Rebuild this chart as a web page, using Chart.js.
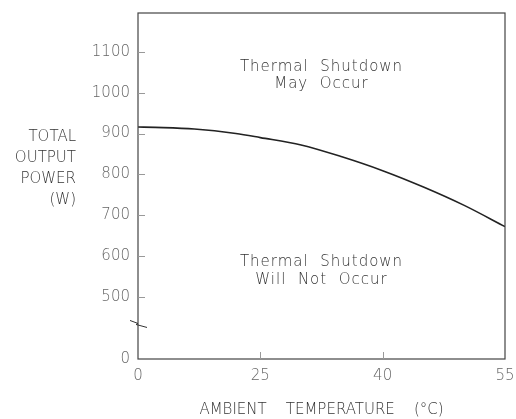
<!DOCTYPE html>
<html>
<head>
<meta charset="utf-8">
<script src="https://cdn.jsdelivr.net/npm/chart.js@4/dist/chart.umd.min.js"></script>
<style>
  html, body { margin: 0; padding: 0; background: #fff; }
  #wrap { width: 516px; height: 419px; }
</style>
</head>
<body>
<div id="wrap"><canvas id="powerChart"></canvas></div>
<script>
// x axis ticks are evenly spaced but not linear in degrees
const xTickValues = [0, 25, 40, 55];
const xTickLabels = ['0', '25', '40', '55'];
const yTickValues = [0, 500, 600, 700, 800, 900, 1000, 1100];

// derating curve
const temps = [0, 3.5, 11.5, 20, 25, 30, 35, 40, 45, 50, 55];
const power = [916, 915, 911, 900, 890, 872, 843, 809, 769, 724, 672];

const yFloor = 348;   // where the broken axis puts "0"
const yTop = 1195;

const FONT = 'DejaVu Sans';

// temperature -> position along the evenly spaced tick axis
function toPos(t) {
  for (let i = 0; i < xTickValues.length - 1; i++) {
    const a = xTickValues[i], b = xTickValues[i + 1];
    if (t <= b) return i + (t - a) / (b - a);
  }
  return xTickValues.length - 1;
}

const extras = {
  id: 'extras',
  afterDraw(chart) {
    const { ctx, chartArea: ca, scales: { x, y } } = chart;
    ctx.save();

    // frame
    ctx.strokeStyle = '#444';
    ctx.lineWidth = 1.2;
    ctx.strokeRect(ca.left, ca.top, ca.right - ca.left, ca.bottom - ca.top);

    // inner tick marks
    ctx.strokeStyle = '#999';
    ctx.lineWidth = 1;
    yTickValues.slice(1).forEach(v => {
      const py = Math.round(y.getPixelForValue(v)) + 0.5;
      ctx.beginPath();
      ctx.moveTo(ca.left, py);
      ctx.lineTo(ca.left + 7, py);
      ctx.stroke();
    });
    xTickValues.slice(1, -1).forEach((v, i) => {
      const px = Math.round(x.getPixelForValue(i + 1)) + 0.5;
      ctx.beginPath();
      ctx.moveTo(px, ca.bottom);
      ctx.lineTo(px, ca.bottom - 7);
      ctx.stroke();
    });

    // axis break mark
    const by = y.getPixelForValue(435);
    ctx.strokeStyle = '#333';
    ctx.beginPath();
    ctx.moveTo(ca.left - 8, by - 3);
    ctx.lineTo(ca.left, by);
    ctx.lineTo(ca.left - 2, by + 1);
    ctx.lineTo(ca.left + 9, by + 4);
    ctx.stroke();

    // region notes
    ctx.fillStyle = '#333';
    ctx.font = '200 15px "' + FONT + '"';
    ctx.letterSpacing = '1px';
    ctx.textAlign = 'center';
    ctx.textBaseline = 'middle';
    const cx = x.getPixelForValue(1.5);
    ctx.fillText('Thermal  Shutdown', cx, y.getPixelForValue(1063));
    ctx.fillText('May  Occur', cx, y.getPixelForValue(1022));
    ctx.fillText('Thermal  Shutdown', cx, y.getPixelForValue(586));
    ctx.fillText('Will  Not  Occur', cx, y.getPixelForValue(542));

    // y axis title, stacked
    ctx.letterSpacing = '0px';
    ctx.textAlign = 'right';
    ['TOTAL', 'OUTPUT', 'POWER', '(W)'].forEach((t, i) => {
      ctx.fillText(t, 76, 137 + i * 21);
    });
    ctx.restore();
  }
};

new Chart(document.getElementById('powerChart'), {
  type: 'line',
  data: {
    datasets: [{
      data: temps.map((t, i) => ({ x: toPos(t), y: power[i] })),
      borderColor: '#222',
      borderWidth: 1.6,
      pointRadius: 0,
      cubicInterpolationMode: 'monotone',
      fill: false
    }]
  },
  options: {
    responsive: true,
    maintainAspectRatio: false,
    animation: false,
    layout: { padding: { top: 13, right: 11, left: 0, bottom: 0 } },
    plugins: { legend: { display: false }, tooltip: { enabled: false } },
    scales: {
      x: {
        type: 'linear',
        min: 0,
        max: xTickValues.length - 1,
        afterBuildTicks: s => { s.ticks = xTickValues.map((v, i) => ({ value: i })); },
        afterFit: s => { s.height = 60; s.paddingLeft = 0; s.paddingRight = 0; },
        grid: { display: false, drawTicks: false },
        border: { display: false },
        ticks: {
          padding: 8,
          color: '#666',
          font: { family: FONT, size: 15, weight: '200' },
          maxRotation: 0,
          callback: v => xTickLabels[v]
        },
        title: {
          display: true,
          text: 'AMBIENT    TEMPERATURE    (°C)',
          color: '#333',
          font: { family: FONT, size: 15, weight: '200' },
          padding: { top: 0, bottom: 0 }
        }
      },
      y: {
        type: 'linear',
        min: yFloor,
        max: yTop,
        afterBuildTicks: s => { s.ticks = yTickValues.map(v => ({ value: v === 0 ? yFloor : v })); },
        afterFit: s => { s.width = 138; s.paddingTop = 0; s.paddingBottom = 0; },
        grid: { display: false, drawTicks: false },
        border: { display: false },
        ticks: {
          padding: 8,
          color: '#666',
          font: { family: FONT, size: 15, weight: '200' },
          callback: v => (v === yFloor ? '0' : String(v))
        }
      }
    }
  },
  plugins: [extras]
});
</script>
</body>
</html>
